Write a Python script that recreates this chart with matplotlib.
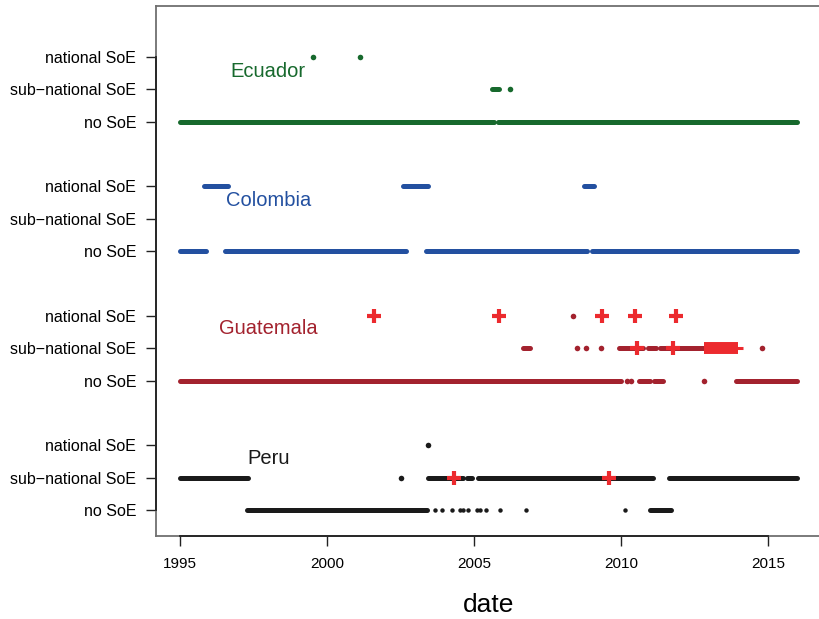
import matplotlib
matplotlib.use("Agg")
import matplotlib.pyplot as plt

plt.rcParams["font.family"] = ["Liberation Sans", "DejaVu Sans"]

# ---- data (decimal years) ----
LEVEL_LABELS = ["no SoE", "sub\u2212national SoE", "national SoE"]
YEAR_TICKS = [1995, 2000, 2005, 2010, 2015]

# Ecuador
ECU_NO = [(1995.0, 2005.68), (2005.82, 2016.0)]
ECU_SUB = [(2005.63, 2005.86)]
ECU_SUB_DAYS = [2006.24]
ECU_NAT_DAYS = [1999.54, 2001.13]

# Colombia
COL_NO = [(1995.0, 1995.9), (1996.54, 2002.68), (2003.38, 2008.85), (2009.02, 2016.0)]
COL_NAT = [(1995.81, 1996.64), (2002.6, 2003.45), (2008.75, 2009.09)]

# Guatemala
GUA_NO = [(1995.0, 2010.0), (2010.61, 2010.99), (2011.11, 2011.42), (2013.91, 2016.0)]
GUA_NO_DAYS = [2010.2, 2010.35, 2012.82]
GUA_SUB = [(2006.66, 2006.89), (2009.95, 2010.75), (2010.92, 2011.2), (2011.33, 2012.85)]
GUA_SUB_DAYS = [2008.49, 2008.8, 2009.32, 2014.8]
GUA_NAT_DAYS = [2008.38]
GUA_NAT_CROSS = [2001.61, 2005.84, 2009.36, 2010.48, 2011.86]
GUA_SUB_CROSS = [2010.55, 2011.76]
GUA_SUB_BLOCK = (2012.84, 2013.97)
GUA_SUB_TAIL = (2013.9, 2014.14)

# Peru
PER_NO = [(1997.27, 2003.4), (2010.99, 2011.72)]
PER_NO_DAYS = [2003.67, 2003.9, 2004.24, 2004.52, 2004.64, 2004.81, 2005.09,
               2005.2, 2005.4, 2005.88, 2006.76, 2010.14]
PER_SUB = [(1995.0, 1997.3), (2003.45, 2004.62), (2004.76, 2004.92),
           (2005.15, 2011.08), (2011.63, 2016.0)]
PER_SUB_DAYS = [2002.52]
PER_NAT_DAYS = [2003.45]
PER_SUB_CROSS = [2004.33, 2009.58]

GREEN = "#17692d"
BLUE = "#2350a0"
DARKRED = "#a3222e"
RED = "#ec2a2e"
BLACK = "#1a1a1a"

LW = 3.6
DOT = 4.0


def draw_spans(ax, spans, y, color):
    for a, b in spans:
        ax.plot([a, b], [y, y], color=color, linewidth=LW, solid_capstyle="round")


def draw_days(ax, days, y, color, size=DOT):
    ax.plot(days, [y] * len(days), linestyle="none", marker="o",
            markersize=size, color=color, markeredgewidth=0)


def draw_cross(ax, days, y):
    ax.plot(days, [y] * len(days), linestyle="none", marker="+",
            markersize=10.5, markeredgewidth=3.0, color=RED, zorder=5)


fig = plt.figure(figsize=(8.19, 6.19), dpi=100)
ax = fig.add_axes([156 / 819, 83 / 619, 666 / 819, 530 / 619])

# Ecuador: levels 13-15
draw_spans(ax, ECU_NO, 13, GREEN)
draw_spans(ax, ECU_SUB, 14, GREEN)
draw_days(ax, ECU_SUB_DAYS, 14, GREEN)
draw_days(ax, ECU_NAT_DAYS, 15, GREEN)

# Colombia: levels 9-11
draw_spans(ax, COL_NO, 9, BLUE)
draw_spans(ax, COL_NAT, 11, BLUE)

# Guatemala: levels 5-7
draw_spans(ax, GUA_NO, 5, DARKRED)
draw_days(ax, GUA_NO_DAYS, 5, DARKRED)
draw_spans(ax, GUA_SUB, 6, DARKRED)
draw_days(ax, GUA_SUB_DAYS, 6, DARKRED)
draw_days(ax, GUA_NAT_DAYS, 7, DARKRED)
draw_cross(ax, GUA_NAT_CROSS, 7)
draw_cross(ax, GUA_SUB_CROSS, 6)
ax.plot(GUA_SUB_BLOCK, [6, 6], color=RED, linewidth=8.6, solid_capstyle="butt", zorder=5)
ax.plot(GUA_SUB_TAIL, [6, 6], color=RED, linewidth=2.2, solid_capstyle="butt", zorder=5)

# Peru: levels 1-3
draw_spans(ax, PER_NO, 1, BLACK)
draw_days(ax, PER_NO_DAYS, 1, BLACK, size=3.2)
draw_spans(ax, PER_SUB, 2, BLACK)
draw_days(ax, PER_SUB_DAYS, 2, BLACK)
draw_days(ax, PER_NAT_DAYS, 3, BLACK)
draw_cross(ax, PER_SUB_CROSS, 2)

# country names
ax.text(1998.0, 14.55, "Ecuador", color=GREEN, fontsize=14.5, ha="center", va="center")
ax.text(1998.0, 10.57, "Colombia", color=BLUE, fontsize=14.5, ha="center", va="center")
ax.text(1998.0, 6.6, "Guatemala", color=DARKRED, fontsize=14.5, ha="center", va="center")
ax.text(1998.0, 2.6, "Peru", color=BLACK, fontsize=14.5, ha="center", va="center")

# axes
ax.set_xlim(1994.184, 2016.84)
ax.set_ylim(0.197, 16.576)
yticks = [1, 2, 3, 5, 6, 7, 9, 10, 11, 13, 14, 15]
ax.set_yticks(yticks)
ax.set_yticklabels(LEVEL_LABELS * 4)
ax.set_xticks(YEAR_TICKS)
ax.set_xticklabels([str(y) for y in YEAR_TICKS])
ax.tick_params(axis="both", length=7.2, width=1.0, color="#222222", labelsize=11.5, pad=7)
ax.tick_params(axis="x", labelsize=11, pad=8)
for s in ax.spines.values():
    s.set_color("#707070")
    s.set_linewidth(1.3)

# R-style axis lines between first and last tick
ax.plot([1994.184, 1994.184], [1, 15], color="#222222", linewidth=1.3, clip_on=False, zorder=6)
ax.plot([1995, 2015], [0.197, 0.197], color="#222222", linewidth=1.3, clip_on=False, zorder=6)

ax.set_xlabel("date", fontsize=19, labelpad=16)

fig.savefig("out.png", dpi=100)
